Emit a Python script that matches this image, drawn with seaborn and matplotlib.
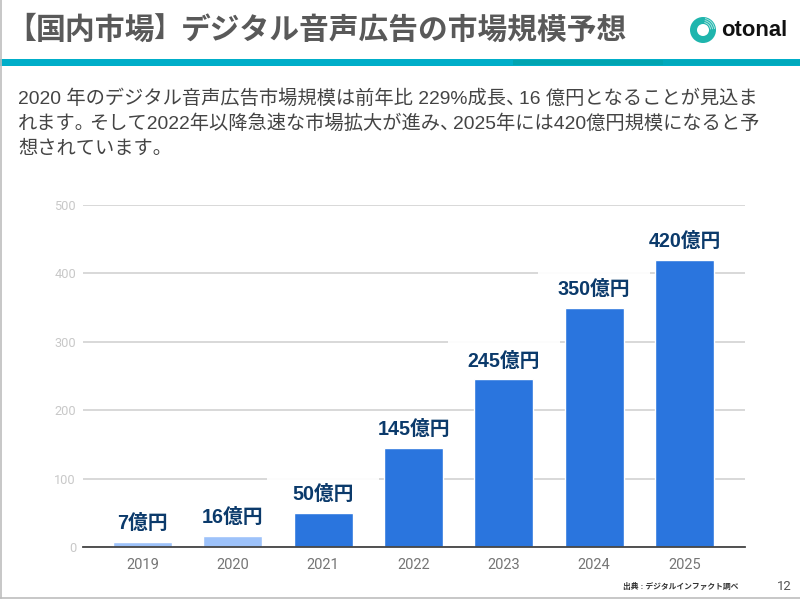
import re
import matplotlib
matplotlib.use("Agg")
import matplotlib.pyplot as plt
from matplotlib.patches import Wedge, Circle, Rectangle
from matplotlib.lines import Line2D
import seaborn as sns
import pandas as pd

years = ["2019", "2020", "2021", "2022", "2023", "2024", "2025"]
values = [7, 16, 50, 145, 245, 350, 420]
phase = ["actual", "actual", "forecast", "forecast", "forecast", "forecast", "forecast"]
labels = ["7億円", "16億円", "50億円", "145億円", "245億円", "350億円", "420億円"]
yticks = [0, 100, 200, 300, 400, 500]
grid_breaks = {"2021": 100, "2023": 300, "2024": 400}
title_core = "国内市場"
title_rest = "デジタル音声広告の市場規模予想"
body = ["2020 年のデジタル音声広告市場規模は前年比 229%成長、16 億円となることが見込ま",
        "れます。そして2022年以降急速な市場拡大が進み、2025年には420億円規模になると予",
        "想されています。"]
source = "出典 : デジタルインファクト調べ"
page = "12"

sns.set_theme(style="white")
CJK = ["Liberation Sans", "Noto Sans CJK JP", "DejaVu Sans"]
plt.rcParams["font.family"] = CJK

W, H = 800, 599
fig = plt.figure(figsize=(W / 100, H / 100), dpi=100, facecolor="white")

ax = fig.add_axes([83 / W, 1 - 547 / H, (745 - 83) / W, (547 - 205) / H])
df = pd.DataFrame({"year": years, "value": values, "phase": phase})
sns.barplot(data=df, x="year", y="value", hue="phase",
            palette={"actual": "#9DC2FA", "forecast": "#2A75DE"}, saturation=1,
            dodge=False, width=0.653, legend=False, ax=ax, zorder=3)
ax.set_xlim(-0.659, 6.67)
ax.set_ylim(0, 500)
ax.set_yticks(yticks)
ax.set_xlabel("")
ax.set_ylabel("")
ax.grid(axis="y", color="#D2D2D2", lw=1.2)
ax.set_axisbelow(True)
for s in ["top", "right", "left"]:
    ax.spines[s].set_visible(False)
ax.spines["bottom"].set_color("#444444")
ax.spines["bottom"].set_linewidth(1.3)
ax.spines["bottom"].set_zorder(5)
ax.tick_params(axis="x", length=0, pad=8, labelsize=10.5, labelcolor="#757575")
ax.tick_params(axis="y", length=0, pad=5, labelsize=9.2, labelcolor="#C8C8C8")
for t in ax.get_xticklabels() + ax.get_yticklabels():
    t.set_fontfamily(["Roboto", "DejaVu Sans"])

# The chart's label boxes partly hide some gridlines.
for year, level in grid_breaks.items():
    ax.add_patch(Rectangle((years.index(year) - 0.62, level - 4), 1.24, 8,
                           facecolor="white", edgecolor="none", alpha=0.93, zorder=1))

for i, (v, lab) in enumerate(zip(values, labels)):
    ax.annotate(lab, (i, v), xytext=(0, 13.2), textcoords="offset points",
                ha="center", va="center", fontsize=14.2, fontweight="bold",
                color="#0B3A6B", zorder=6)

ov = fig.add_axes([0, 0, 1, 1], facecolor="none")
ov.set_xlim(0, W)
ov.set_ylim(H, 0)
ov.axis("off")

ov.add_patch(Rectangle((0, 59), W, 7, color="#00AEC9", lw=0))
ov.add_patch(Rectangle((513, 60), 150, 4.5, color="#00A4B0", lw=0))
ov.add_patch(Rectangle((663, 60), 137, 4.5, color="#00A9BC", lw=0))
ov.add_line(Line2D([0.5, 0.5], [0, 598], color="#BDBDBD", lw=1.2))
ov.add_line(Line2D([0, 800], [598, 598], color="#BDBDBD", lw=1.2))

# title pieces: the brackets are set tight against the words
tkw = dict(fontweight="bold", color="#595959", ha="left", va="center")
ov.text(6, 30, "【", fontsize=21.5, **tkw)
ov.text(36, 30, title_core, fontsize=21.5, **tkw)
ov.text(153, 30, "】", fontsize=19.8, **tkw)
ov.text(180.5, 30, title_rest, fontsize=21.4, **tkw)

# body text: Japanese punctuation is tightened, as in the original
renderer = fig.canvas.get_renderer()
inv = ov.transData.inverted()
for y, line in zip([99, 124, 149], body):
    x = 18
    for seg in re.findall(r"[^、。]*[、。]?", line):
        if not seg:
            continue
        t = ov.text(x, y, seg, fontsize=13.85, color="#444444", ha="left", va="center")
        bb = t.get_window_extent(renderer)
        x = inv.transform((bb.x1, bb.y0))[0] - 6

ov.text(623, 586.5, source, fontsize=5.6, fontweight="bold", color="#333333",
        ha="left", va="center")
ov.text(792, 586, page, fontsize=9.5, color="#555555", ha="right", va="center",
        family=["Roboto", "DejaVu Sans"])

# logo
c = (703, 30)
ov.add_patch(Circle(c, 13, color="#1FB5AD", lw=0))
for r in (12, 10, 8):
    ov.add_patch(Wedge(c, r, -80, -5, width=0.9, color="#B5E6E2", lw=0))
ov.add_patch(Circle(c, 6, color="white", lw=0))
ov.text(721, 30, "otonal", fontsize=15.8, fontweight="bold", color="#111111",
        ha="left", va="center", family=["Liberation Sans", "DejaVu Sans"])

fig.savefig("out.png", dpi=100)
